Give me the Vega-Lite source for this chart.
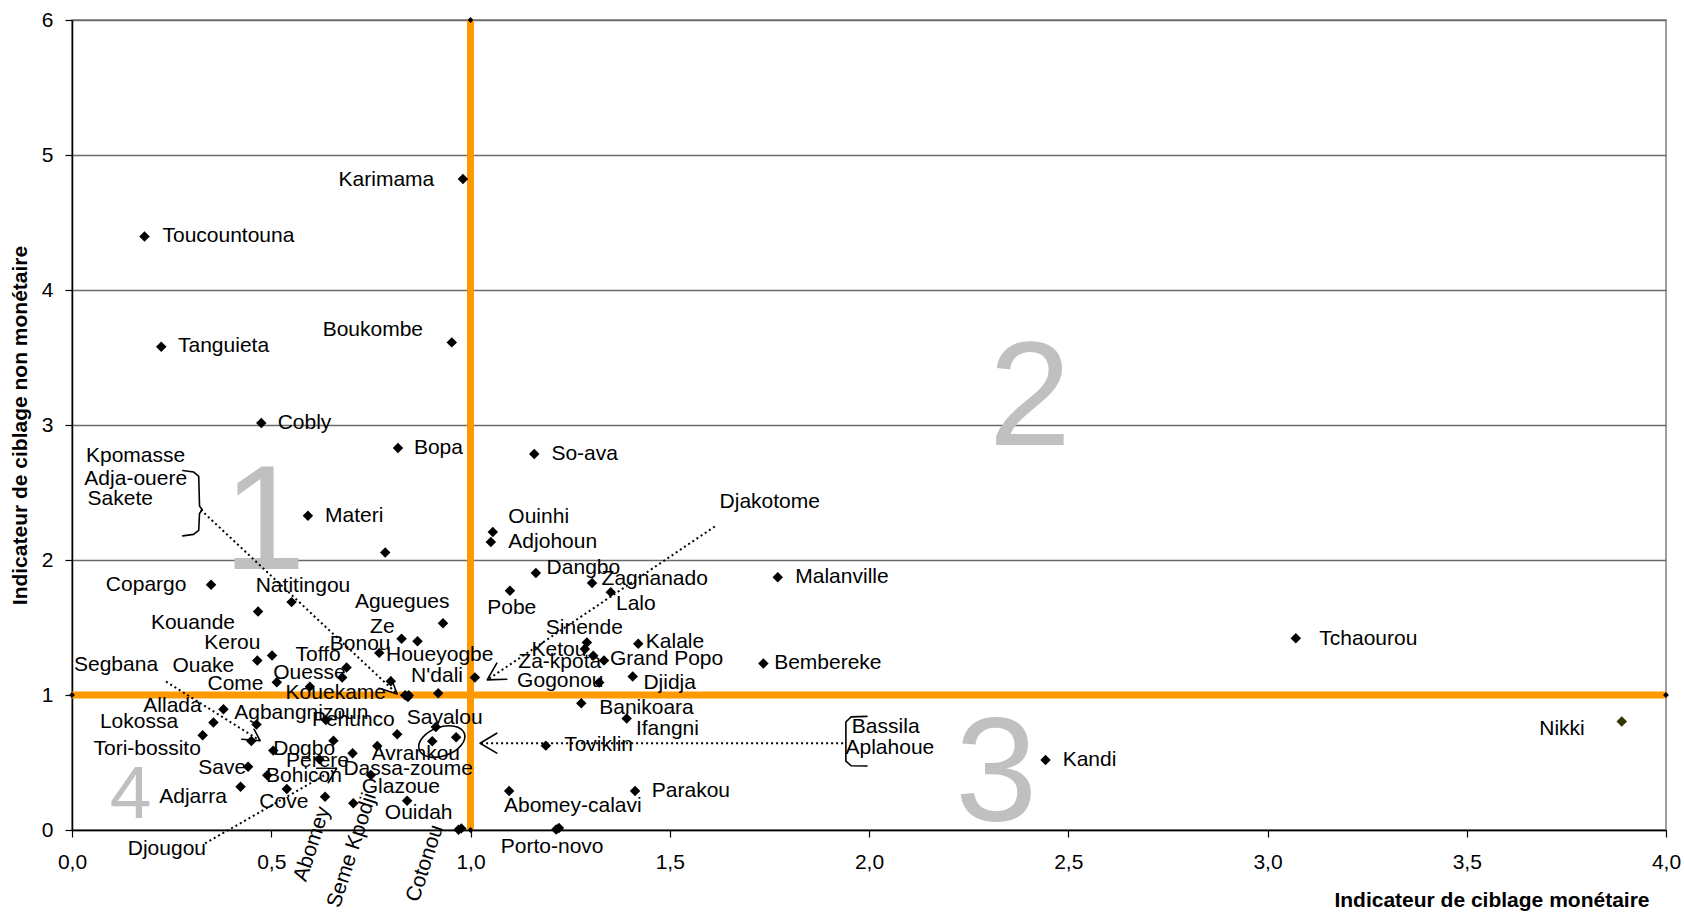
{
  "$schema": "https://vega.github.io/schema/vega-lite/v6.json",
  "width": 1594,
  "height": 810,
  "autosize": {"type": "none"},
  "padding": {"left": 72, "top": 20, "right": 18, "bottom": 83},
  "background": "white",
  "config": {
    "font": "Liberation Sans",
    "view": {"stroke": "#808080", "strokeWidth": 1.5},
    "axis": {
      "domainColor": "black", "domainWidth": 1.5,
      "tickColor": "black", "tickWidth": 1.2, "tickSize": 7,
      "labelFont": "Liberation Sans", "labelFontSize": 21, "labelColor": "black",
      "labelFlush": false, "labelOverlap": false,
      "titleFont": "Liberation Sans", "titleFontSize": 21, "titleColor": "black", "titleFontWeight": "bold"
    }
  },
  "encoding": {
    "x": {
      "field": "monetaire", "type": "quantitative",
      "scale": {"domain": [0, 4], "nice": false, "zero": false},
      "axis": {
        "values": [0, 0.5, 1, 1.5, 2, 2.5, 3, 3.5, 4],
        "labelExpr": "replace(format(datum.value, '.1f'), '.', ',')",
        "grid": false,
        "labelPadding": 14,
        "title": "Indicateur de ciblage monétaire",
        "titleX": 1577, "titleY": 70,
        "titleAlign": "right", "titleBaseline": "middle"
      }
    },
    "y": {
      "field": "non_monetaire", "type": "quantitative",
      "scale": {"domain": [0, 6], "nice": false, "zero": false},
      "axis": {
        "values": [0, 1, 2, 3, 4, 5, 6],
        "format": "d",
        "grid": true, "gridColor": "#6a6a6a", "gridWidth": 1.3,
        "labelPadding": 12,
        "title": "Indicateur de ciblage non monétaire",
        "titleX": -52, "titleY": 405, "titleAngle": -90,
        "titleAlign": "center", "titleBaseline": "middle"
      }
    }
  },
  "datasets": {
    "quadrants": [
      {"ligne": "verticale", "ordre": 0, "monetaire": 1, "non_monetaire": 0},
      {"ligne": "verticale", "ordre": 1, "monetaire": 1, "non_monetaire": 6},
      {"ligne": "horizontale", "ordre": 0, "monetaire": 0, "non_monetaire": 1},
      {"ligne": "horizontale", "ordre": 1, "monetaire": 4, "non_monetaire": 1}
    ],
    "communes": [
      {"commune": "Karimama", "monetaire": 0.981, "non_monetaire": 4.823},
      {"commune": "Toucountouna", "monetaire": 0.182, "non_monetaire": 4.396},
      {"commune": "Tanguieta", "monetaire": 0.224, "non_monetaire": 3.580},
      {"commune": "Boukombe", "monetaire": 0.953, "non_monetaire": 3.612},
      {"commune": "Cobly", "monetaire": 0.475, "non_monetaire": 3.015},
      {"commune": "Bopa", "monetaire": 0.818, "non_monetaire": 2.829},
      {"commune": "So-ava", "monetaire": 1.160, "non_monetaire": 2.785},
      {"commune": "Materi", "monetaire": 0.592, "non_monetaire": 2.328},
      {"commune": "(sans nom 1)", "monetaire": 0.786, "non_monetaire": 2.056},
      {"commune": "Ouinhi", "monetaire": 1.056, "non_monetaire": 2.207},
      {"commune": "Adjohoun", "monetaire": 1.051, "non_monetaire": 2.133},
      {"commune": "Dangbo", "monetaire": 1.164, "non_monetaire": 1.903},
      {"commune": "Pobe", "monetaire": 1.099, "non_monetaire": 1.772},
      {"commune": "Zagnanado", "monetaire": 1.305, "non_monetaire": 1.829},
      {"commune": "Lalo", "monetaire": 1.352, "non_monetaire": 1.762},
      {"commune": "Malanville", "monetaire": 1.771, "non_monetaire": 1.873},
      {"commune": "Copargo", "monetaire": 0.349, "non_monetaire": 1.816},
      {"commune": "Natitingou", "monetaire": 0.551, "non_monetaire": 1.688},
      {"commune": "Kouande", "monetaire": 0.467, "non_monetaire": 1.618},
      {"commune": "Aguegues", "monetaire": 0.931, "non_monetaire": 1.532},
      {"commune": "Ze", "monetaire": 0.827, "non_monetaire": 1.416},
      {"commune": "Houeyogbe", "monetaire": 0.867, "non_monetaire": 1.399},
      {"commune": "Bonou", "monetaire": 0.771, "non_monetaire": 1.312},
      {"commune": "Kerou", "monetaire": 0.502, "non_monetaire": 1.292},
      {"commune": "Ouake", "monetaire": 0.465, "non_monetaire": 1.255},
      {"commune": "Toffo", "monetaire": 0.689, "non_monetaire": 1.203},
      {"commune": "Ouesse", "monetaire": 0.678, "non_monetaire": 1.129},
      {"commune": "Come", "monetaire": 0.514, "non_monetaire": 1.095},
      {"commune": "Kouekame", "monetaire": 0.597, "non_monetaire": 1.062},
      {"commune": "(sans nom 2)", "monetaire": 0.800, "non_monetaire": 1.102},
      {"commune": "Djakotome", "monetaire": 1.011, "non_monetaire": 1.129},
      {"commune": "N'dali", "monetaire": 0.919, "non_monetaire": 1.013},
      {"commune": "Kpomasse", "monetaire": 0.836, "non_monetaire": 0.998},
      {"commune": "Adja-ouere", "monetaire": 0.843, "non_monetaire": 0.986},
      {"commune": "Sakete", "monetaire": 0.845, "non_monetaire": 0.998},
      {"commune": "Sinende", "monetaire": 1.292, "non_monetaire": 1.389},
      {"commune": "Ketou", "monetaire": 1.287, "non_monetaire": 1.340},
      {"commune": "Za-kpota", "monetaire": 1.308, "non_monetaire": 1.290},
      {"commune": "Grand Popo", "monetaire": 1.335, "non_monetaire": 1.255},
      {"commune": "Kalale", "monetaire": 1.421, "non_monetaire": 1.379},
      {"commune": "Djidja", "monetaire": 1.407, "non_monetaire": 1.137},
      {"commune": "Gogonou", "monetaire": 1.323, "non_monetaire": 1.092},
      {"commune": "Bembereke", "monetaire": 1.735, "non_monetaire": 1.234},
      {"commune": "Tchaourou", "monetaire": 3.071, "non_monetaire": 1.421},
      {"commune": "Banikoara", "monetaire": 1.278, "non_monetaire": 0.939},
      {"commune": "Ifangni", "monetaire": 1.392, "non_monetaire": 0.826},
      {"commune": "Toviklin", "monetaire": 1.189, "non_monetaire": 0.625},
      {"commune": "Nikki", "monetaire": 3.889, "non_monetaire": 0.803},
      {"commune": "Kandi", "monetaire": 2.443, "non_monetaire": 0.519},
      {"commune": "Parakou", "monetaire": 1.413, "non_monetaire": 0.289},
      {"commune": "Abomey-calavi", "monetaire": 1.097, "non_monetaire": 0.289},
      {"commune": "Porto-novo", "monetaire": 1.215, "non_monetaire": 0.004},
      {"commune": "(sans nom 3)", "monetaire": 1.222, "non_monetaire": 0.014},
      {"commune": "Cotonou", "monetaire": 0.970, "non_monetaire": 0.002},
      {"commune": "(sans nom 4)", "monetaire": 0.977, "non_monetaire": 0.012},
      {"commune": "Allada", "monetaire": 0.380, "non_monetaire": 0.895},
      {"commune": "Lokossa", "monetaire": 0.355, "non_monetaire": 0.796},
      {"commune": "Agbangnizoun", "monetaire": 0.463, "non_monetaire": 0.781},
      {"commune": "(sans nom 5)", "monetaire": 0.637, "non_monetaire": 0.815},
      {"commune": "Sayalou", "monetaire": 0.913, "non_monetaire": 0.763},
      {"commune": "Tori-bossito", "monetaire": 0.328, "non_monetaire": 0.702},
      {"commune": "Segbana", "monetaire": 0.450, "non_monetaire": 0.660},
      {"commune": "(sans nom 6)", "monetaire": 0.656, "non_monetaire": 0.662},
      {"commune": "Pehunco", "monetaire": 0.816, "non_monetaire": 0.710},
      {"commune": "Bassila", "monetaire": 0.904, "non_monetaire": 0.657},
      {"commune": "Aplahoue", "monetaire": 0.964, "non_monetaire": 0.687},
      {"commune": "Dogbo", "monetaire": 0.505, "non_monetaire": 0.588},
      {"commune": "(sans nom 7)", "monetaire": 0.704, "non_monetaire": 0.568},
      {"commune": "Avrankou", "monetaire": 0.766, "non_monetaire": 0.623},
      {"commune": "Perere", "monetaire": 0.621, "non_monetaire": 0.524},
      {"commune": "Save", "monetaire": 0.442, "non_monetaire": 0.469},
      {"commune": "Bohicon", "monetaire": 0.490, "non_monetaire": 0.405},
      {"commune": "Dassa-zoume", "monetaire": 0.750, "non_monetaire": 0.408},
      {"commune": "Adjarra", "monetaire": 0.423, "non_monetaire": 0.321},
      {"commune": "Cove", "monetaire": 0.539, "non_monetaire": 0.304},
      {"commune": "Abomey", "monetaire": 0.635, "non_monetaire": 0.247},
      {"commune": "Seme Kpodji", "monetaire": 0.706, "non_monetaire": 0.198},
      {"commune": "Ouidah", "monetaire": 0.841, "non_monetaire": 0.217}
    ],
    "etiquettes": [
      {"etiquette": "Karimama", "monetaire": 0.669, "non_monetaire": 4.818},
      {"etiquette": "Toucountouna", "monetaire": 0.227, "non_monetaire": 4.398},
      {"etiquette": "Boukombe", "monetaire": 0.629, "non_monetaire": 3.706},
      {"etiquette": "Tanguieta", "monetaire": 0.266, "non_monetaire": 3.583},
      {"etiquette": "Cobly", "monetaire": 0.516, "non_monetaire": 3.015},
      {"etiquette": "Bopa", "monetaire": 0.858, "non_monetaire": 2.829},
      {"etiquette": "So-ava", "monetaire": 1.203, "non_monetaire": 2.785},
      {"etiquette": "Materi", "monetaire": 0.635, "non_monetaire": 2.328},
      {"etiquette": "Ouinhi", "monetaire": 1.095, "non_monetaire": 2.318},
      {"etiquette": "Adjohoun", "monetaire": 1.095, "non_monetaire": 2.133},
      {"etiquette": "Djakotome", "monetaire": 1.625, "non_monetaire": 2.429},
      {"etiquette": "Dangbo", "monetaire": 1.191, "non_monetaire": 1.944},
      {"etiquette": "Zagnanado", "monetaire": 1.329, "non_monetaire": 1.858},
      {"etiquette": "Malanville", "monetaire": 1.815, "non_monetaire": 1.873},
      {"etiquette": "Natitingou", "monetaire": 0.461, "non_monetaire": 1.809},
      {"etiquette": "Kpomasse", "monetaire": 0.035, "non_monetaire": 2.772},
      {"etiquette": "Adja-ouere", "monetaire": 0.031, "non_monetaire": 2.602},
      {"etiquette": "Sakete", "monetaire": 0.039, "non_monetaire": 2.451},
      {"etiquette": "Copargo", "monetaire": 0.085, "non_monetaire": 1.816},
      {"etiquette": "Kouande", "monetaire": 0.198, "non_monetaire": 1.537},
      {"etiquette": "Kerou", "monetaire": 0.332, "non_monetaire": 1.384},
      {"etiquette": "Segbana", "monetaire": 0.005, "non_monetaire": 1.223},
      {"etiquette": "Ouake", "monetaire": 0.252, "non_monetaire": 1.218},
      {"etiquette": "Come", "monetaire": 0.340, "non_monetaire": 1.080},
      {"etiquette": "Toffo", "monetaire": 0.561, "non_monetaire": 1.297},
      {"etiquette": "Ouesse", "monetaire": 0.505, "non_monetaire": 1.162},
      {"etiquette": "Aguegues", "monetaire": 0.710, "non_monetaire": 1.692},
      {"etiquette": "Ze", "monetaire": 0.748, "non_monetaire": 1.507},
      {"etiquette": "Bonou", "monetaire": 0.647, "non_monetaire": 1.376},
      {"etiquette": "Houeyogbe", "monetaire": 0.788, "non_monetaire": 1.297},
      {"etiquette": "N'dali", "monetaire": 0.851, "non_monetaire": 1.142},
      {"etiquette": "Kouekame", "monetaire": 0.536, "non_monetaire": 1.013},
      {"etiquette": "Allada", "monetaire": 0.179, "non_monetaire": 0.919},
      {"etiquette": "Lokossa", "monetaire": 0.070, "non_monetaire": 0.803},
      {"etiquette": "Agbangnizoun", "monetaire": 0.407, "non_monetaire": 0.865},
      {"etiquette": "Pehunco", "monetaire": 0.602, "non_monetaire": 0.815},
      {"etiquette": "Sayalou", "monetaire": 0.840, "non_monetaire": 0.828},
      {"etiquette": "Tori-bossito", "monetaire": 0.054, "non_monetaire": 0.600},
      {"etiquette": "Dogbo", "monetaire": 0.505, "non_monetaire": 0.598},
      {"etiquette": "Avrankou", "monetaire": 0.752, "non_monetaire": 0.563},
      {"etiquette": "Perere", "monetaire": 0.537, "non_monetaire": 0.511},
      {"etiquette": "Save", "monetaire": 0.317, "non_monetaire": 0.457},
      {"etiquette": "Bohicon", "monetaire": 0.487, "non_monetaire": 0.403},
      {"etiquette": "Dassa-zoume", "monetaire": 0.681, "non_monetaire": 0.455},
      {"etiquette": "Glazoue", "monetaire": 0.727, "non_monetaire": 0.321},
      {"etiquette": "Adjarra", "monetaire": 0.219, "non_monetaire": 0.242},
      {"etiquette": "Cove", "monetaire": 0.470, "non_monetaire": 0.210},
      {"etiquette": "Ouidah", "monetaire": 0.785, "non_monetaire": 0.124},
      {"etiquette": "Djougou", "monetaire": 0.140, "non_monetaire": -0.141},
      {"etiquette": "Pobe", "monetaire": 1.042, "non_monetaire": 1.643},
      {"etiquette": "Lalo", "monetaire": 1.365, "non_monetaire": 1.673},
      {"etiquette": "Sinende", "monetaire": 1.189, "non_monetaire": 1.495},
      {"etiquette": "Kalale", "monetaire": 1.440, "non_monetaire": 1.391},
      {"etiquette": "Ketou", "monetaire": 1.153, "non_monetaire": 1.334},
      {"etiquette": "Za-kpota", "monetaire": 1.120, "non_monetaire": 1.248},
      {"etiquette": "Grand Popo", "monetaire": 1.350, "non_monetaire": 1.265},
      {"etiquette": "Gogonou", "monetaire": 1.117, "non_monetaire": 1.102},
      {"etiquette": "Djidja", "monetaire": 1.434, "non_monetaire": 1.087},
      {"etiquette": "Banikoara", "monetaire": 1.323, "non_monetaire": 0.902},
      {"etiquette": "Ifangni", "monetaire": 1.415, "non_monetaire": 0.751},
      {"etiquette": "Toviklin", "monetaire": 1.235, "non_monetaire": 0.630},
      {"etiquette": "Parakou", "monetaire": 1.455, "non_monetaire": 0.289},
      {"etiquette": "Abomey-calavi", "monetaire": 1.084, "non_monetaire": 0.180},
      {"etiquette": "Porto-novo", "monetaire": 1.076, "non_monetaire": -0.124},
      {"etiquette": "Bembereke", "monetaire": 1.762, "non_monetaire": 1.236},
      {"etiquette": "Tchaourou", "monetaire": 3.130, "non_monetaire": 1.416},
      {"etiquette": "Bassila", "monetaire": 1.957, "non_monetaire": 0.761},
      {"etiquette": "Aplahoue", "monetaire": 1.941, "non_monetaire": 0.610},
      {"etiquette": "Kandi", "monetaire": 2.486, "non_monetaire": 0.519},
      {"etiquette": "Nikki", "monetaire": 3.682, "non_monetaire": 0.746}
    ],
    "etiquettes_obliques": [
      {"etiquette": "Abomey", "monetaire": 0.603, "non_monetaire": -0.104},
      {"etiquette": "Seme Kpodji", "monetaire": 0.703, "non_monetaire": -0.150},
      {"etiquette": "Cotonou", "monetaire": 0.886, "non_monetaire": -0.248}
    ],
    "zones": [
      {"zone": "1", "monetaire": 0.483, "non_monetaire": 1.935},
      {"zone": "2", "monetaire": 2.404, "non_monetaire": 2.85},
      {"zone": "3", "monetaire": 2.319, "non_monetaire": 0.07},
      {"zone": "4", "monetaire": 0.147, "non_monetaire": 0.09}
    ],
    "pointilles": [
      {"trait": "Kpomasse", "ordre": 0, "monetaire": 0.323, "non_monetaire": 2.372},
      {"trait": "Kpomasse", "ordre": 1, "monetaire": 0.816, "non_monetaire": 1.008},
      {"trait": "Segbana", "ordre": 0, "monetaire": 0.236, "non_monetaire": 1.099},
      {"trait": "Segbana", "ordre": 1, "monetaire": 0.472, "non_monetaire": 0.662},
      {"trait": "Djougou", "ordre": 0, "monetaire": 0.334, "non_monetaire": -0.099},
      {"trait": "Djougou", "ordre": 1, "monetaire": 0.664, "non_monetaire": 0.457},
      {"trait": "Djakotome", "ordre": 0, "monetaire": 1.613, "non_monetaire": 2.248},
      {"trait": "Djakotome", "ordre": 1, "monetaire": 1.042, "non_monetaire": 1.112},
      {"trait": "Bassila", "ordre": 0, "monetaire": 1.935, "non_monetaire": 0.643},
      {"trait": "Bassila", "ordre": 1, "monetaire": 1.024, "non_monetaire": 0.643}
    ],
    "traits": [
      {"trait": "fleche Kpomasse", "ordre": 0, "monetaire": 0.800, "non_monetaire": 1.132},
      {"trait": "fleche Kpomasse", "ordre": 1, "monetaire": 0.816, "non_monetaire": 1.008},
      {"trait": "fleche Kpomasse", "ordre": 2, "monetaire": 0.771, "non_monetaire": 1.050},
      {"trait": "fleche Segbana", "ordre": 0, "monetaire": 0.426, "non_monetaire": 0.672},
      {"trait": "fleche Segbana", "ordre": 1, "monetaire": 0.472, "non_monetaire": 0.662},
      {"trait": "fleche Segbana", "ordre": 2, "monetaire": 0.457, "non_monetaire": 0.746},
      {"trait": "fleche Djougou", "ordre": 0, "monetaire": 0.614, "non_monetaire": 0.457},
      {"trait": "fleche Djougou", "ordre": 1, "monetaire": 0.664, "non_monetaire": 0.457},
      {"trait": "fleche Djougou", "ordre": 2, "monetaire": 0.643, "non_monetaire": 0.350},
      {"trait": "fleche Djakotome", "ordre": 0, "monetaire": 1.091, "non_monetaire": 1.117},
      {"trait": "fleche Djakotome", "ordre": 1, "monetaire": 1.042, "non_monetaire": 1.112},
      {"trait": "fleche Djakotome", "ordre": 2, "monetaire": 1.066, "non_monetaire": 1.236},
      {"trait": "fleche Bassila", "ordre": 0, "monetaire": 1.066, "non_monetaire": 0.717},
      {"trait": "fleche Bassila", "ordre": 1, "monetaire": 1.024, "non_monetaire": 0.643},
      {"trait": "fleche Bassila", "ordre": 2, "monetaire": 1.066, "non_monetaire": 0.569},
      {"trait": "accolade Kpomasse", "ordre": 0, "monetaire": 0.278, "non_monetaire": 2.663},
      {"trait": "accolade Kpomasse", "ordre": 1, "monetaire": 0.305, "non_monetaire": 2.652},
      {"trait": "accolade Kpomasse", "ordre": 2, "monetaire": 0.318, "non_monetaire": 2.620},
      {"trait": "accolade Kpomasse", "ordre": 3, "monetaire": 0.320, "non_monetaire": 2.400},
      {"trait": "accolade Kpomasse", "ordre": 4, "monetaire": 0.327, "non_monetaire": 2.372},
      {"trait": "accolade Kpomasse", "ordre": 5, "monetaire": 0.320, "non_monetaire": 2.345},
      {"trait": "accolade Kpomasse", "ordre": 6, "monetaire": 0.318, "non_monetaire": 2.220},
      {"trait": "accolade Kpomasse", "ordre": 7, "monetaire": 0.305, "non_monetaire": 2.190},
      {"trait": "accolade Kpomasse", "ordre": 8, "monetaire": 0.278, "non_monetaire": 2.179},
      {"trait": "crochet Bassila", "ordre": 0, "monetaire": 1.995, "non_monetaire": 0.842},
      {"trait": "crochet Bassila", "ordre": 1, "monetaire": 1.955, "non_monetaire": 0.838},
      {"trait": "crochet Bassila", "ordre": 2, "monetaire": 1.942, "non_monetaire": 0.800},
      {"trait": "crochet Bassila", "ordre": 3, "monetaire": 1.942, "non_monetaire": 0.510},
      {"trait": "crochet Bassila", "ordre": 4, "monetaire": 1.955, "non_monetaire": 0.476},
      {"trait": "crochet Bassila", "ordre": 5, "monetaire": 1.995, "non_monetaire": 0.474}
    ],
    "ellipse": [
      {"groupe": "Bassila, Aplahoue", "monetaire": 0.928, "non_monetaire": 0.655}
    ]
  },
  "layer": [
    {
      "data": {"name": "quadrants"},
      "mark": {"type": "line", "color": "#FF9900", "strokeWidth": 7, "clip": false},
      "encoding": {
        "detail": {"field": "ligne"},
        "order": {"field": "ordre"}
      }
    },
    {
      "data": {"name": "zones"},
      "mark": {"type": "text", "color": "#C0C0C0", "align": "center", "baseline": "alphabetic", "font": "Liberation Sans", "clip": false},
      "encoding": {
        "text": {"field": "zone"},
        "size": {"condition": {"test": "datum.zone === '4'", "value": 75}, "value": 148}
      }
    },
    {
      "data": {"name": "quadrants"},
      "mark": {"type": "point", "shape": "diamond", "filled": true, "color": "black", "opacity": 1, "size": 34, "clip": false},
      "encoding": {}
    },
    {
      "data": {"name": "communes"},
      "mark": {"type": "point", "shape": "diamond", "filled": true, "opacity": 1, "size": 110, "clip": false},
      "encoding": {
        "color": {"condition": {"test": "datum.commune === 'Nikki'", "value": "#333300"}, "value": "black"}
      }
    },
    {
      "data": {"name": "ellipse"},
      "mark": {
        "type": "point",
        "shape": "M-1,0C-1,-0.33,-0.55,-0.6,0,-0.6C0.55,-0.6,1,-0.33,1,0C1,0.33,0.55,0.6,0,0.6C-0.55,0.6,-1,0.33,-1,0Z",
        "filled": false, "stroke": "black", "strokeWidth": 1.6, "opacity": 1,
        "size": 2304, "angle": -20, "clip": false
      },
      "encoding": {}
    },
    {
      "data": {"name": "pointilles"},
      "mark": {"type": "line", "color": "black", "strokeWidth": 2, "strokeDash": [2, 3], "clip": false},
      "encoding": {
        "detail": {"field": "trait"},
        "order": {"field": "ordre"}
      }
    },
    {
      "data": {"name": "traits"},
      "mark": {"type": "line", "color": "black", "strokeWidth": 1.6, "strokeJoin": "round", "strokeCap": "round", "clip": false},
      "encoding": {
        "detail": {"field": "trait"},
        "order": {"field": "ordre"}
      }
    },
    {
      "data": {"name": "etiquettes"},
      "mark": {"type": "text", "align": "left", "baseline": "middle", "font": "Liberation Sans", "fontSize": 21, "color": "black", "clip": false},
      "encoding": {
        "text": {"field": "etiquette"}
      }
    },
    {
      "data": {"name": "etiquettes_obliques"},
      "mark": {"type": "text", "align": "center", "baseline": "middle", "font": "Liberation Sans", "fontSize": 21, "color": "black", "angle": -72, "clip": false},
      "encoding": {
        "text": {"field": "etiquette"}
      }
    }
  ]
}
